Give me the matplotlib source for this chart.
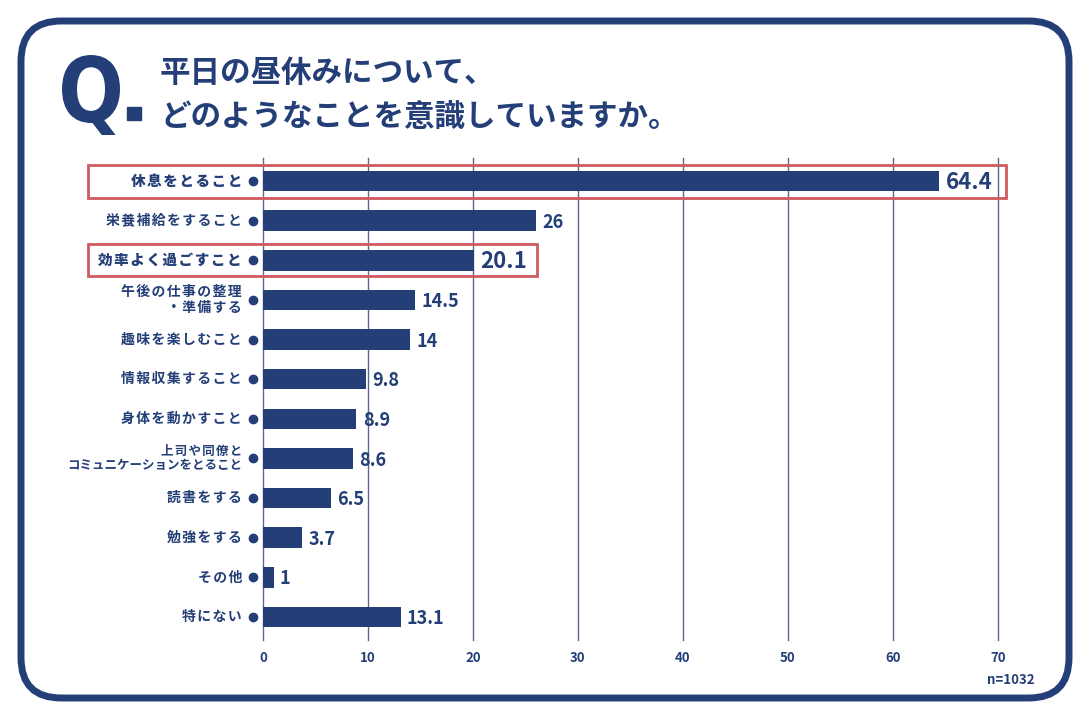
import matplotlib
matplotlib.use("Agg")
import matplotlib.pyplot as plt
from matplotlib.patches import FancyBboxPatch, Rectangle, PathPatch
from matplotlib.textpath import TextPath
from matplotlib.font_manager import FontProperties
from matplotlib.transforms import Affine2D

plt.rcParams['font.family'] = ['Noto Sans CJK JP', 'DejaVu Sans']

NAVY = '#243f78'
GRID = '#5b6985'
RED = '#cf5b5e'
W, H = 1090, 719

# data
categories = [
    '休息をとること', '栄養補給をすること', '効率よく過ごすこと',
    '午後の仕事の整理\n・準備する', '趣味を楽しむこと', '情報収集すること',
    '身体を動かすこと', '上司や同僚と\nコミュニケーションをとること',
    '読書をする', '勉強をする', 'その他', '特にない',
]
values = [64.4, 26, 20.1, 14.5, 14, 9.8, 8.9, 8.6, 6.5, 3.7, 1, 13.1]
value_labels = ['64.4', '26', '20.1', '14.5', '14', '9.8', '8.9', '8.6', '6.5', '3.7', '1', '13.1']
highlight = [0, 2]
x_ticks = [0, 10, 20, 30, 40, 50, 60, 70]


def spaced(s):
    # loose letter spacing like the original artwork (long katakana line kept tight)
    out = []
    for line in s.split('\n'):
        out.append(line if len(line) > 10 else '\u200a'.join(line))
    return '\n'.join(out)


fig = plt.figure(figsize=(W / 100, H / 100), dpi=100)
fig.patch.set_facecolor('white')

# rounded frame
frame = FancyBboxPatch((21 / W, 21 / H), 1048 / W, 677 / H,
                       boxstyle='round,pad=0,rounding_size=0.037',
                       transform=fig.transFigure, facecolor='none',
                       edgecolor=NAVY, linewidth=5, mutation_aspect=W / H)
fig.patches.append(frame)

ax = fig.add_axes([263 / W, 1 - 640 / H, 735 / W, 482 / H])
ax.set_facecolor('none')
y = list(range(len(categories)))
ax.barh(y, values, height=0.52, color=NAVY, zorder=3)
ax.set_xlim(0, 70)
ax.set_ylim(len(categories) - 0.42, -0.58)

for t in x_ticks:
    ax.axvline(t, color=GRID, linewidth=1, zorder=1, clip_on=False)

for s in ax.spines.values():
    s.set_visible(False)
ax.set_yticks([])
ax.set_xticks(x_ticks)
ax.set_xticklabels([str(t) for t in x_ticks], fontsize=9.5, color=NAVY, fontweight='bold')
ax.tick_params(axis='x', length=0, pad=8)

for i, (v, lab, cat) in enumerate(zip(values, value_labels, categories)):
    big = i in highlight
    ax.text(v + 0.6, i + 0.04, lab, va='center', ha='left',
            fontsize=16 if big else 13, fontweight='bold', color=NAVY, zorder=4)
    size = 10.5 if big else (9 if len(cat) > 16 else 10)
    ax.text(-2.0, i, spaced(cat), va='center', ha='right', fontsize=size,
            fontweight='heavy' if big else 'bold', color=NAVY,
            linespacing=1.1, clip_on=False)
    ax.plot(-0.95, i, 'o', color=NAVY, markersize=6, clip_on=False)

# highlight boxes
for (x0, y0, w, h) in [(88, 165, 918, 33), (88, 244, 449, 32)]:
    fig.patches.append(Rectangle((x0 / W, 1 - (y0 + h) / H), w / W, h / H,
                                 transform=fig.transFigure, fill=False,
                                 edgecolor=RED, linewidth=2))

# big condensed "Q" fitted into its box (pixel coords, top-down)
qpath = TextPath((0, 0), 'Q', size=100, prop=FontProperties(family='DejaVu Sans', weight='bold'))
ext = qpath.get_extents()
qx0, qx1, qtop, qbot = 62, 120, 55, 135
sx = (qx1 - qx0) / ext.width
sy = (qbot - qtop) / ext.height
qtrans = Affine2D().translate(-ext.x0, -ext.y0).scale(sx, sy).translate(qx0, H - qbot)
fig.patches.append(PathPatch(qpath, transform=qtrans, facecolor=NAVY, edgecolor='none'))
fig.patches.append(Rectangle((127 / W, 1 - 120 / H), 14 / W, 13 / H,
                             transform=fig.transFigure, color=NAVY))

fig.text(160 / W, 1 - 73 / H, '平日の昼休みについて、', fontsize=22,
         fontweight='bold', color=NAVY, va='center', ha='left')
fig.text(160 / W, 1 - 118 / H, 'どのようなことを意識していますか。', fontsize=22,
         fontweight='bold', color=NAVY, va='center', ha='left')

fig.text(1035 / W, 1 - 680 / H, 'n=1032', fontsize=9.5, fontweight='bold',
         color=NAVY, va='center', ha='right')

fig.savefig('out.png', dpi=100, facecolor='white')
